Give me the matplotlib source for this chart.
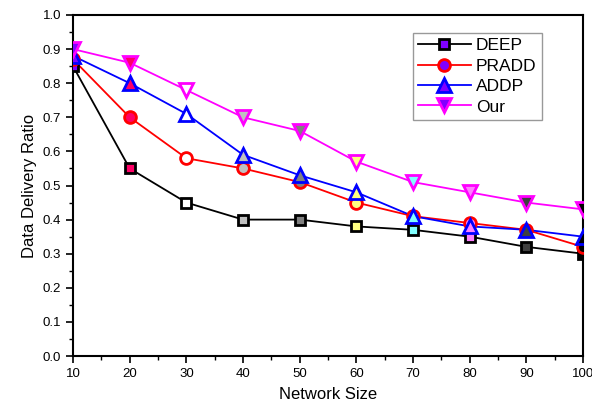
import numpy as np
import matplotlib.pyplot as plt
from matplotlib.ticker import MultipleLocator

plt.rcParams['font.family'] = ['Liberation Sans', 'DejaVu Sans']

sizes = [10, 20, 30, 40, 50, 60, 70, 80, 90, 100]
deep = [0.85, 0.55, 0.45, 0.40, 0.40, 0.38, 0.37, 0.35, 0.32, 0.30]
pradd = [0.87, 0.70, 0.58, 0.55, 0.51, 0.45, 0.41, 0.39, 0.37, 0.32]
addp = [0.88, 0.80, 0.71, 0.59, 0.53, 0.48, 0.41, 0.38, 0.37, 0.35]
our = [0.90, 0.86, 0.78, 0.70, 0.66, 0.57, 0.51, 0.48, 0.45, 0.43]

# marker fill changes at each x, same for every series (Origin style)
fills = ['#8000ff', '#ff0066', '#ffffff', '#c0c0c0', '#808080',
         '#ffff80', '#80ffff', '#ff80ff', '#404040', '#000000']

series = [
    ('DEEP', deep, 'black', 's', 7.5),
    ('PRADD', pradd, 'red', 'o', 8.5),
    ('ADDP', addp, 'blue', '^', 9.5),
    ('Our', our, 'magenta', 'v', 9.5),
]

fig = plt.figure(figsize=(5.92, 4.12), dpi=100)
ax = fig.add_axes([0.1233, 0.1359, 0.8617, 0.8277])

for name, vals, col, mk, ms in series:
    ax.plot(sizes, vals, color=col, lw=1.3, zorder=2)
    for x, y, fc in zip(sizes, vals, fills):
        ax.plot(x, y, marker=mk, ms=ms, mfc=fc, mec=col, mew=2, ls='none', zorder=3)
    # legend handle
    ax.plot([], [], color=col, lw=1.3, marker=mk, ms=ms, mfc='#8000ff',
            mec=col, mew=2, label=name)

ax.set_xlim(10, 100)
ax.set_ylim(0, 1.0)
ax.xaxis.set_major_locator(MultipleLocator(10))
ax.xaxis.set_minor_locator(MultipleLocator(5))
ax.yaxis.set_major_locator(MultipleLocator(0.1))
ax.yaxis.set_minor_locator(MultipleLocator(0.05))
ax.yaxis.set_major_formatter(plt.FormatStrFormatter('%.1f'))
ax.tick_params(which='major', direction='out', length=5, width=1.2, labelsize=9.5)
ax.tick_params(which='minor', direction='out', length=3, width=1)
for s in ax.spines.values():
    s.set_linewidth(1.5)

ax.set_xlabel('Network Size', fontsize=12, labelpad=5)
ax.set_ylabel('Data Delivery Ratio', fontsize=12, labelpad=4)

leg = ax.legend(loc='upper left', bbox_to_anchor=(0.667, 0.947), fontsize=12.5,
                fancybox=False, edgecolor='gray', handlelength=3.0,
                borderpad=0.3, labelspacing=0.3, handletextpad=0.3,
                borderaxespad=0)
leg.get_frame().set_linewidth(1)

fig.savefig('out.png', dpi=100)
